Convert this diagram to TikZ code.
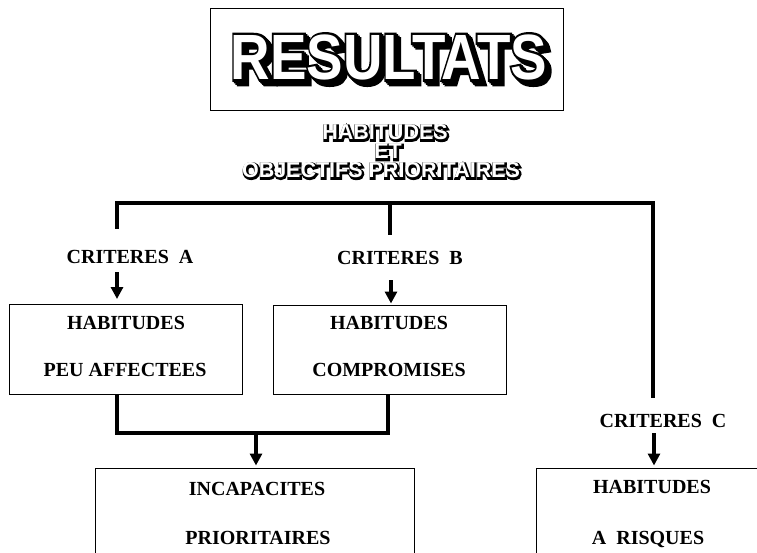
\documentclass[tikz,border=0pt]{standalone}
\usepackage{fontspec}
\setmainfont{Liberation Serif}
\newfontfamily\heavysans{Liberation Sans Bold}
\newfontfamily\heavyoutlineA[FakeBold=8]{Liberation Sans Bold}
\newfontfamily\heavyoutlineB[FakeBold=13]{Liberation Sans Bold}
\usetikzlibrary{arrows.meta,calc}
\begin{document}
\begin{tikzpicture}[x=1pt,y=-1pt,
  wire/.style={line width=3.2pt},
  arr/.style={line width=3.2pt,-{Triangle[width=12pt,length=12pt]}},
  box/.style={draw,line width=1.3pt,inner sep=0pt,anchor=north west},
  lbl/.style={font=\fontsize{20}{20}\selectfont\bfseries,inner sep=0pt,text depth=0pt},
  bigtxt/.style={inner sep=0pt,text depth=0pt,xscale=0.855,transform shape},
  subtxt/.style={inner sep=0pt,text depth=0pt},
]
\clip (0,0) rectangle (757,553);
\fill[white] (0,0) rectangle (757,553);

% title box
\node[box,minimum width=353pt,minimum height=102pt] (tbox) at (210,8) {};
% title: shadow, outline, white face
\foreach \s in {1.5,3,4.5}{
  \node[bigtxt,font=\heavyoutlineA\fontsize{64}{64}\selectfont,text=black] at ($(389,57)+(\s,\s)$) {RESULTATS};
}
\node[bigtxt,font=\heavyoutlineA\fontsize{64}{64}\selectfont,text=black] (titleline) at (389,57) {RESULTATS};
\node[bigtxt,font=\heavysans\fontsize{64}{64}\selectfont,text=white] (title) at (389,57) {RESULTATS};

% subtitle
\node[subtxt,font=\heavyoutlineB\fontsize{21.5}{21.5}\selectfont,text=black] at (386,133) {HABITUDES};
\node[subtxt,font=\heavysans\fontsize{21.5}{21.5}\selectfont,text=white] (sub1) at (385,132) {HABITUDES};
\node[subtxt,font=\heavyoutlineB\fontsize{21.5}{21.5}\selectfont,text=black] at (389,152.5) {ET};
\node[subtxt,font=\heavysans\fontsize{21.5}{21.5}\selectfont,text=white] (sub2) at (388,151.5) {ET};
\node[subtxt,font=\heavyoutlineB\fontsize{21.5}{21.5}\selectfont,text=black] at (382,171) {OBJECTIFS PRIORITAIRES};
\node[subtxt,font=\heavysans\fontsize{21.5}{21.5}\selectfont,text=white] (sub3) at (381,170) {OBJECTIFS PRIORITAIRES};

% top distribution bar
\coordinate (ja) at (117,229);
\coordinate (jb) at (390,235);
\coordinate (jc) at (653,398);
\coordinate (top) at (390,203);
\draw[wire] (ja) |- (top) -| (jc);
\draw[wire] (jb) -- (top);

% criteria labels
\node[lbl] (ca) at (130,257) {CRITERES\ \ A};
\node[lbl] (cb) at (400,258) {CRITERES\ \ B};
\node[lbl] (cc) at (663,421) {CRITERES\ \ C};

% boxes
\node[box,minimum width=233pt,minimum height=90pt] (ba) at (9,304) {};
\node[box,minimum width=233pt,minimum height=89pt] (bb) at (273,305) {};
\node[box,minimum width=319pt,minimum height=140pt] (bi) at (95,468) {};
\node[box,minimum width=300pt,minimum height=140pt] (bc) at (536,468) {};

% box texts
\node[lbl] (ta1) at (126,323) {HABITUDES};
\node[lbl] (ta2) at (125,370) {PEU AFFECTEES};
\node[lbl] (tb1) at (389,323) {HABITUDES};
\node[lbl] (tb2) at (389,370) {COMPROMISES};
\node[lbl] (ti1) at (257,489) {INCAPACITES};
\node[lbl] (ti2) at (258,538) {PRIORITAIRES};
\node[lbl] (tc1) at (652,487) {HABITUDES};
\node[lbl] (tc2) at (648,538) {A\ \ RISQUES};

% arrows into boxes
\coordinate (aa) at (117,272);
\coordinate (ab) at (391,280);
\coordinate (ac) at (654,433);
\draw[arr,shorten >=5pt] (aa) -- (ba.north -| aa);
\draw[arr,shorten >=1.5pt] (ab) -- (bb.north -| ab);
\draw[arr,shorten >=2.5pt] (ac) -- (bc.north -| ac);

% merge of A and B into incapacites
\coordinate (la) at (117,433);
\coordinate (lb) at (388,433);
\coordinate (lm) at (256,433);
\draw[wire] (ba.south -| la) -- (la) -- (lb) -- (bb.south -| lb);
\draw[arr,shorten >=2.5pt] (lm) -- (bi.north -| lm);
\end{tikzpicture}
\end{document}
